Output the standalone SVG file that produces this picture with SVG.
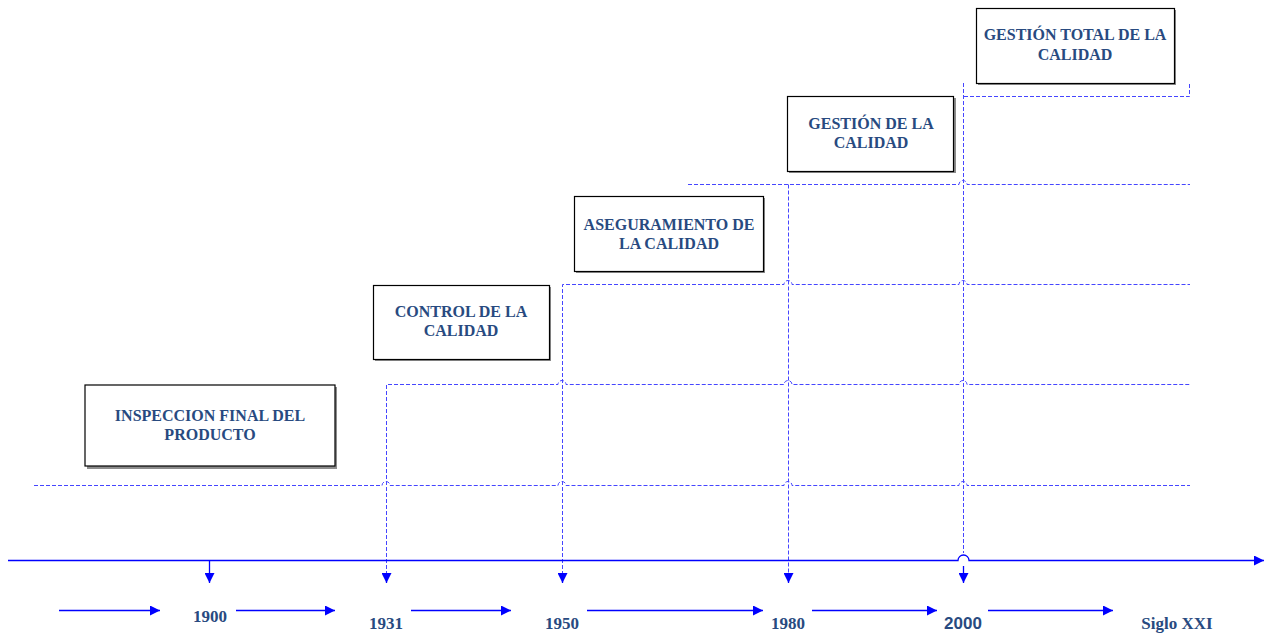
<svg xmlns="http://www.w3.org/2000/svg" width="1268" height="633" viewBox="0 0 1268 633">
  <defs>
    <marker id="head" viewBox="0 0 10 10" refX="10" refY="5" markerWidth="10" markerHeight="10" markerUnits="userSpaceOnUse" orient="auto">
      <path d="M0,0 L10,5 L0,10 Z" fill="#0000ff"/>
    </marker>
    <marker id="headBig" viewBox="0 0 10 10" refX="10" refY="5" markerWidth="12" markerHeight="10" markerUnits="userSpaceOnUse" orient="auto">
      <path d="M0,0 L10,5 L0,10 Z" fill="#0000ff"/>
    </marker>
    <style>
      .box { fill: #ffffff; stroke: #000000; stroke-width: 1.2; }
      .shadow { fill: #8c8c8c; }
      .label { font-family: "Liberation Serif", "Times New Roman", serif; font-weight: bold; font-size: 16px; fill: #284a80; text-anchor: middle; }
      .year { font-family: "Liberation Serif", "Times New Roman", serif; font-weight: bold; font-size: 17px; fill: #284a80; text-anchor: middle; }
      .year-sans { font-family: "Liberation Sans", Arial, sans-serif; font-weight: bold; font-size: 17px; fill: #284a80; text-anchor: middle; }
      .dash { fill: none; stroke: #4646ff; stroke-width: 1; stroke-dasharray: 4 2; }
      .axis { fill: none; stroke: #0000ff; stroke-width: 1.3; }
      .tick { fill: none; stroke: #0000ff; stroke-width: 1.3; }
    </style>
  </defs>

  <!-- connectors: dashed guide lines, main time axis, tick arrows -->
  <g id="connectors">
    <!-- horizontal dashed levels with hops over verticals -->
    <path class="dash" d="M34,485.5 H382 A4,4 0 0 1 390,485.5 H558 A4,4 0 0 1 566,485.5 H784 A4,4 0 0 1 792,485.5 H959 A4,4 0 0 1 967,485.5 H1190"/>
    <path class="dash" d="M386.5,575 V384.5 H558 A4,4 0 0 1 566,384.5 H784 A4,4 0 0 1 792,384.5 H959 A4,4 0 0 1 967,384.5 H1190"/>
    <path class="dash" d="M562.5,575 V284.5 H784 A4,4 0 0 1 792,284.5 H959 A4,4 0 0 1 967,284.5 H1190"/>
    <path class="dash" d="M688,184.5 H959 A4,4 0 0 1 967,184.5 H1190"/>
    <path class="dash" d="M788.5,184.5 V575"/>
    <path class="dash" d="M963.5,83 V553"/>
    <path class="dash" d="M964,96.5 H1189.5 V83"/>

    <!-- main time axis with hop at 2000 -->
    <path class="axis" d="M8,560.5 H958 A5.5,5.5 0 0 1 969,560.5 H1264" marker-end="url(#headBig)"/>

    <!-- downward arrows onto the axis labels -->
    <path class="tick" d="M209.5,560.5 V583" marker-end="url(#head)" stroke="#5a5aff"/>
    <path class="tick" d="M386.5,575 V583" marker-end="url(#head)"/>
    <path class="tick" d="M562.5,575 V583" marker-end="url(#head)"/>
    <path class="tick" d="M788.5,575 V583" marker-end="url(#head)"/>
    <path class="tick" d="M963.5,566 V583" marker-end="url(#head)"/>

    <!-- arrows between years -->
    <path class="tick" d="M59,610.5 H160" marker-end="url(#head)"/>
    <path class="tick" d="M236,610.5 H335" marker-end="url(#head)"/>
    <path class="tick" d="M411,610.5 H511" marker-end="url(#head)"/>
    <path class="tick" d="M587,610.5 H763" marker-end="url(#head)"/>
    <path class="tick" d="M812,610.5 H937" marker-end="url(#head)"/>
    <path class="tick" d="M988,610.5 H1113" marker-end="url(#head)"/>
  </g>

  <!-- stage boxes -->
  <g id="inspeccion">
    <rect class="shadow" x="87" y="387" width="250" height="82"/>
    <rect class="box" x="85" y="385" width="250" height="81"/>
    <text class="label" x="210" y="421">INSPECCION FINAL DEL</text>
    <text class="label" x="210" y="440">PRODUCTO</text>
  </g>

  <g id="control">
    <rect class="shadow" x="375" y="287" width="176" height="74"/>
    <rect class="box" x="373.5" y="285.5" width="176" height="74"/>
    <text class="label" x="461" y="317">CONTROL DE LA</text>
    <text class="label" x="461" y="336">CALIDAD</text>
  </g>

  <g id="aseguramiento">
    <rect class="shadow" x="576" y="198" width="189" height="75"/>
    <rect class="box" x="574.5" y="196.5" width="189" height="75"/>
    <text class="label" x="669" y="230">ASEGURAMIENTO DE</text>
    <text class="label" x="669" y="249">LA CALIDAD</text>
  </g>

  <g id="gestion">
    <rect class="shadow" x="789" y="98" width="167" height="75"/>
    <rect class="box" x="787.5" y="96.5" width="166" height="75"/>
    <text class="label" x="871" y="129">GESTIÓN DE LA</text>
    <text class="label" x="871" y="148">CALIDAD</text>
  </g>

  <g id="gestion-total">
    <rect class="shadow" x="978" y="10" width="198" height="75"/>
    <rect class="box" x="976.5" y="8.5" width="198" height="75"/>
    <text class="label" x="1075" y="40">GESTIÓN TOTAL DE LA</text>
    <text class="label" x="1075" y="60">CALIDAD</text>
  </g>

  <!-- timeline labels -->
  <g id="years">
    <text class="year" x="210" y="622">1900</text>
    <text class="year" x="386" y="629">1931</text>
    <text class="year" x="562" y="629">1950</text>
    <text class="year" x="788" y="629">1980</text>
    <text class="year-sans" x="963" y="629">2000</text>
    <text class="year" x="1177" y="629">Siglo XXI</text>
  </g>
</svg>
